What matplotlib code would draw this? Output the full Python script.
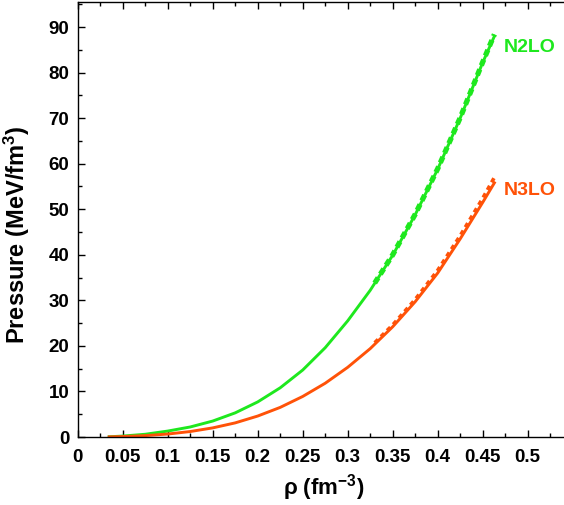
import matplotlib
matplotlib.use("Agg")
from matplotlib import pyplot as plt
from matplotlib.ticker import MultipleLocator, FuncFormatter

plt.rcParams["font.family"] = ["Liberation Sans", "DejaVu Sans"]
plt.rcParams["font.weight"] = "bold"
plt.rcParams["mathtext.fontset"] = "custom"
plt.rcParams["mathtext.rm"] = "Liberation Sans:bold"
plt.rcParams["mathtext.bf"] = "Liberation Sans:bold"
plt.rcParams["mathtext.it"] = "Liberation Sans:bold"

green = "#1ee81e"
orange = "#ff5208"

# full curves (solid)
rho = [0.035, 0.05, 0.075, 0.1, 0.125, 0.15, 0.175, 0.2, 0.225, 0.25,
       0.275, 0.3, 0.325, 0.35, 0.375, 0.4, 0.425, 0.45, 0.463]
p_n2lo = [0.05, 0.2, 0.6, 1.3, 2.2, 3.5, 5.3, 7.7, 10.8, 14.7,
          19.6, 25.5, 32.2, 39.9, 48.8, 58.8, 70.0, 82.2, 88.0]
p_n3lo = [0.03, 0.1, 0.3, 0.65, 1.2, 2.0, 3.1, 4.6, 6.5, 8.9,
          11.8, 15.3, 19.4, 24.2, 29.7, 36.0, 43.5, 51.5, 55.8]

# high-density extension (dashed)
rho_hi = [0.33, 0.35, 0.375, 0.4, 0.425, 0.45, 0.463]
p_n2lo_hi = [33.8, 40.0, 48.9, 58.9, 70.1, 82.3, 88.4]
p_n3lo_hi = [20.7, 24.6, 30.2, 36.6, 44.2, 52.4, 57.0]

fig = plt.figure(figsize=(5.64, 5.05), dpi=100)
ax = fig.add_axes([77.7 / 564, 68 / 505, 495 / 564, 435 / 505])

ax.plot(rho, p_n2lo, color=green, lw=2.1, solid_joinstyle="round")
ax.plot(rho, p_n3lo, color=orange, lw=2.1, solid_joinstyle="round")
ax.plot(rho_hi, p_n2lo_hi, color=green, lw=3.8, linestyle=(0, (1.2, 0.8)))
ax.plot(rho_hi, p_n3lo_hi, color=orange, lw=2.6, linestyle=(0, (1.3, 1.1)))

ax.text(0.4737, 85.6, "N2LO", color=green, fontsize=14, fontweight="bold", va="center")
ax.text(0.4737, 54.2, "N3LO", color=orange, fontsize=14, fontweight="bold", va="center")

ax.set_xlim(0, 0.55)
ax.set_ylim(0, 95.5)
ax.xaxis.set_major_locator(MultipleLocator(0.05))
ax.xaxis.set_minor_locator(MultipleLocator(0.025))
ax.yaxis.set_major_locator(MultipleLocator(10))
ax.yaxis.set_minor_locator(MultipleLocator(5))


def xfmt(v, _):
    if v > 0.52:
        return ""
    return f"{v:.2f}".rstrip("0").rstrip(".")


ax.xaxis.set_major_formatter(FuncFormatter(xfmt))
ax.tick_params(which="both", direction="in", top=True, right=True, width=1)
ax.tick_params(which="major", length=5, labelsize=13.5)
ax.tick_params(axis="x", which="major", pad=9)
ax.tick_params(axis="y", which="major", pad=6)
ax.tick_params(which="minor", length=3)
for s in ax.spines.values():
    s.set_linewidth(1)

ax.set_ylabel(r"Pressure (MeV/fm$^{3}$)", fontsize=17, fontweight="bold")
ax.yaxis.set_label_coords(-0.092, 0.464)
ax.set_xlabel(r"ρ (fm$^{-3}$)", fontsize=16, fontweight="bold")
ax.xaxis.set_label_coords(0.497, -0.08)

fig.savefig("out.png", dpi=100)
